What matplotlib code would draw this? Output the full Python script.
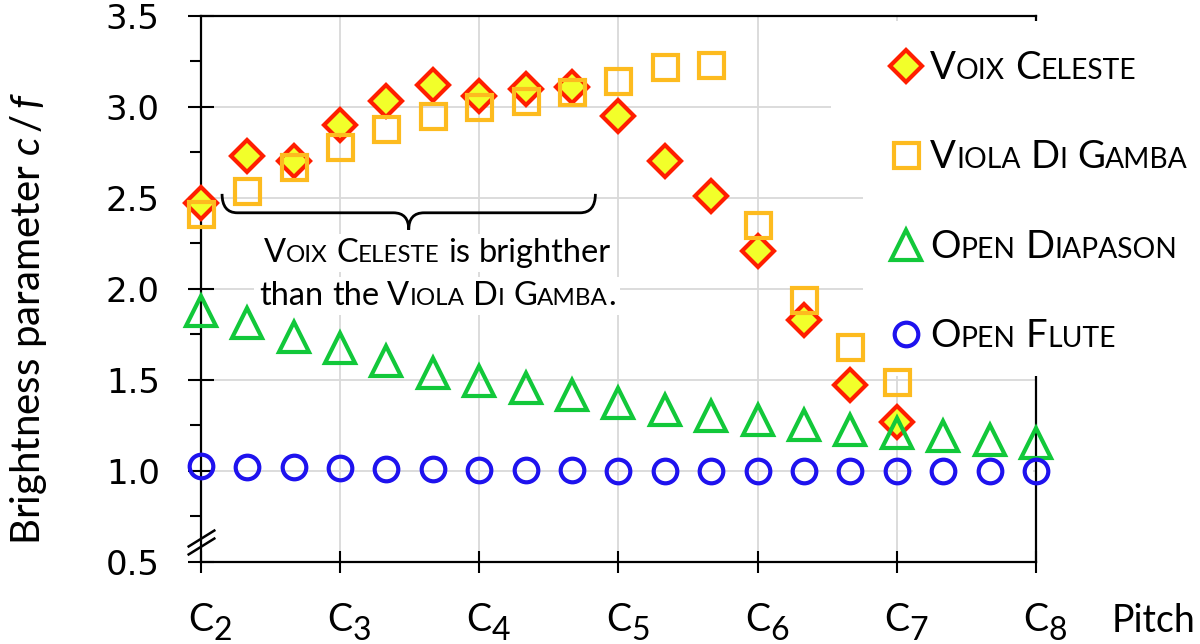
import matplotlib

matplotlib.use("Agg")
import numpy as np
from matplotlib import pyplot as plt
from matplotlib import transforms as mtransforms
from matplotlib.font_manager import FontProperties
from matplotlib.patches import PathPatch, Rectangle
from matplotlib.path import Path
from matplotlib.ticker import MultipleLocator

TEXT_FONT = "Lato"
NUM_FONT = "DejaVu Sans"
SMALL = 0.74  # size ratio of the small capitals

plt.rcParams["mathtext.fontset"] = "custom"
plt.rcParams["mathtext.rm"] = TEXT_FONT
plt.rcParams["mathtext.it"] = f"{TEXT_FONT}:italic"

# pitch in octaves, three points per octave starting at C2
pitch = np.arange(19) / 3 + 2
octaves = [2, 3, 4, 5, 6, 7, 8]
octave_subs = ["2", "3", "4", "5", "6", "7", "8"]
y_ticks = [0.5, 1.0, 1.5, 2.0, 2.5, 3.0, 3.5]
y_tick_labels = ["0.5", "1.0", "1.5", "2.0", "2.5", "3.0", "3.5"]

voix_celeste = [2.47, 2.73, 2.70, 2.90, 3.03, 3.12, 3.06, 3.10, 3.11,
                2.95, 2.70, 2.51, 2.21, 1.83, 1.47, 1.27]
viola_di_gamba = [2.41, 2.54, 2.67, 2.78, 2.88, 2.95, 3.00, 3.03, 3.08,
                  3.14, 3.22, 3.23, 2.35, 1.94, 1.68, 1.49]
open_diapason = [1.88, 1.81, 1.735, 1.675, 1.605, 1.54, 1.495, 1.455, 1.415,
                 1.37, 1.335, 1.30, 1.28, 1.25, 1.225, 1.205, 1.19, 1.17, 1.155]
open_flute = [1.024, 1.018, 1.018, 1.013, 1.010, 1.007, 1.006, 1.005, 1.005,
              1.0, 1.0, 1.0, 1.0, 1.0, 1.0, 1.0, 1.0, 1.0, 1.0]

# labels as (text, small caps?) runs
legend_parts = [
    [("Voix Celeste", True)],
    [("Viola Di Gamba", True)],
    [("Open Diapason", True)],
    [("Open Flute", True)],
]
note_lines = [
    [("Voix Celeste", True), (" is brighther", False)],
    [("than the ", False), ("Viola Di Gamba", True), (".", False)],
]


def text_width(renderer, s, size):
    prop = FontProperties(family=TEXT_FONT, size=size)
    w, _, _ = renderer.get_text_width_height_descent(s, prop, ismath=False)
    return w


def split_runs(parts, size):
    tokens = []
    for text, caps in parts:
        for ch in text:
            if ch == " ":
                kind, glyph, fs = "space", " ", size
            elif caps and ch.islower():
                kind, glyph, fs = "small", ch.upper(), size * SMALL
            else:
                kind, glyph, fs = "big", ch, size
            if tokens and tokens[-1][0] == kind:
                tokens[-1][1] += glyph
            else:
                tokens.append([kind, glyph, fs])
    return tokens


def draw_smallcaps(fig, ax, x, y, parts, size, ha="left", box=False):
    """Draws text with small capitals, x and y are pixel coords of the baseline."""
    renderer = fig.canvas.get_renderer()
    tokens = split_runs(parts, size)
    widths = []
    for kind, s, fs in tokens:
        if kind == "space":
            sp = text_width(renderer, "x x", fs) - text_width(renderer, "xx", fs)
            widths.append(sp * len(s))
        else:
            widths.append(text_width(renderer, s, fs))
    total = sum(widths)
    x0 = x - total / 2 if ha == "center" else x
    if box:
        px = size * fig.dpi / 72
        ax.add_patch(Rectangle((x0 - 5, y - 0.3 * px), total + 10, 1.15 * px,
                               transform=mtransforms.IdentityTransform(),
                               fc="white", ec="none", zorder=2, clip_on=False))
    cursor = x0
    for (kind, s, fs), w in zip(tokens, widths):
        if kind != "space":
            fig.text(cursor, y, s, fontsize=fs, family=TEXT_FONT, ha="left",
                     va="baseline", transform=mtransforms.IdentityTransform(),
                     zorder=6)
        cursor += w


def brace_path(x0, x1, y_end, y_line, y_tip, r):
    xm = (x0 + x1) / 2
    verts = [(x0, y_end), (x0, y_line), (x0 + r, y_line),
             (xm - r, y_line), (xm, y_line), (xm, y_tip),
             (xm, y_line), (xm + r, y_line),
             (x1 - r, y_line), (x1, y_line), (x1, y_end)]
    codes = [Path.MOVETO, Path.CURVE3, Path.CURVE3,
             Path.LINETO, Path.CURVE3, Path.CURVE3,
             Path.CURVE3, Path.CURVE3,
             Path.LINETO, Path.CURVE3, Path.CURVE3]
    return Path(verts, codes)


fig = plt.figure(figsize=(12, 6.44), dpi=100)
ax = fig.add_axes([0.1673, 0.1278, 0.696, 0.8474])
ax.set_xlim(2, 8)
ax.set_ylim(0.5, 3.5)
ax.set_axisbelow(True)
ax.grid(True, color="#d9d9d9", lw=1.3)

for side in ("left", "bottom", "top", "right"):
    ax.spines[side].set_linewidth(1.6)

ax.set_xticks(octaves, labels=["C"] * len(octaves), fontfamily=TEXT_FONT, fontsize=27)
ax.set_yticks(y_ticks, labels=y_tick_labels, fontfamily=NUM_FONT, fontsize=24.5)
ax.yaxis.set_minor_locator(MultipleLocator(0.25))
ax.tick_params(axis="x", which="major", direction="inout", length=16.5, width=1.5, pad=21)
ax.tick_params(axis="y", which="major", direction="inout", length=19, width=1.5, pad=20)
ax.tick_params(axis="y", which="minor", direction="out", length=8, width=1.5)

for lbl, sub in zip(ax.get_xticklabels(), octave_subs):
    ax.annotate(sub, xy=(1, 0), xycoords=lbl, xytext=(0, -2), textcoords="offset pixels",
                fontsize=23, family=TEXT_FONT, ha="left", va="baseline")

ax.set_ylabel(r"Brightness parameter $c\,/\,f$", fontsize=29, family=TEXT_FONT, va="top")
ax.yaxis.set_label_coords(-0.2307, 0.446)
ax.set_xlabel("Pitch", fontsize=27, family=TEXT_FONT, ha="left", va="baseline")
ax.xaxis.set_label_coords(1.091, -0.128)

h_vc, = ax.plot(pitch[:len(voix_celeste)], voix_celeste, ls="none", marker="D", ms=16.5,
                mfc="#f2ff2a", mec="#ff1e00", mew=3.0, clip_on=False, zorder=3)
h_vg, = ax.plot(pitch[:len(viola_di_gamba)], viola_di_gamba, ls="none", marker="s", ms=18,
                mfc="none", mec="#fdbb1f", mew=3.0, clip_on=False, zorder=3.1)
h_od, = ax.plot(pitch, open_diapason, ls="none", marker="^", ms=22,
                mfc="none", mec="#12c83a", mew=3.0, clip_on=False, zorder=3.2)
h_of, = ax.plot(pitch, open_flute, ls="none", marker="o", ms=17,
                mfc="none", mec="#1e12ee", mew=3.0, clip_on=False, zorder=3.3)

# white area behind the legend hides the grid and the right spine
ax.add_patch(Rectangle((6.76, 1.52), 1.9, 1.95, fc="white", ec="none", zorder=2.6, clip_on=False))
ax.add_patch(Rectangle((6.53, 2.97), 0.23, 0.06, fc="white", ec="none", zorder=1))
ax.add_patch(Rectangle((7.12, 0.98), 0.86, 0.04, fc="white", ec="none", zorder=1))

# axis break on the y axis
break_mark = [(-1, -0.62), (1, 0.62)]
ax.plot([2, 2], [0.632, 0.584], ls="none", marker=break_mark, ms=20, mec="black",
        mew=1.8, clip_on=False, zorder=4)

ax.add_patch(PathPatch(brace_path(2.153, 4.835, 2.522, 2.418, 2.325, 0.11),
                       fc="none", ec="black", lw=2.0, zorder=4))

leg = ax.legend([h_vc, h_vg, h_od, h_of], [" "] * 4, loc="upper left",
                bbox_to_anchor=(0.7423, 0.9224), bbox_transform=fig.transFigure,
                frameon=False, prop={"family": TEXT_FONT, "size": 27.5},
                handlelength=0.8, handletextpad=0.23, labelspacing=1.40,
                borderpad=0, borderaxespad=0, numpoints=1)

fig.canvas.draw()
for t, parts in zip(leg.get_texts(), legend_parts):
    bx, by = t.get_transform().transform(t.get_position())
    draw_smallcaps(fig, ax, bx, by, parts, 27.5)

note_x, note_y = ax.transData.transform((3.70, 2.148))
for i, parts in enumerate(note_lines):
    draw_smallcaps(fig, ax, note_x, note_y - 43 * i, parts, 23.5, ha="center", box=True)

fig.savefig("out.png", dpi=100, facecolor="white")
